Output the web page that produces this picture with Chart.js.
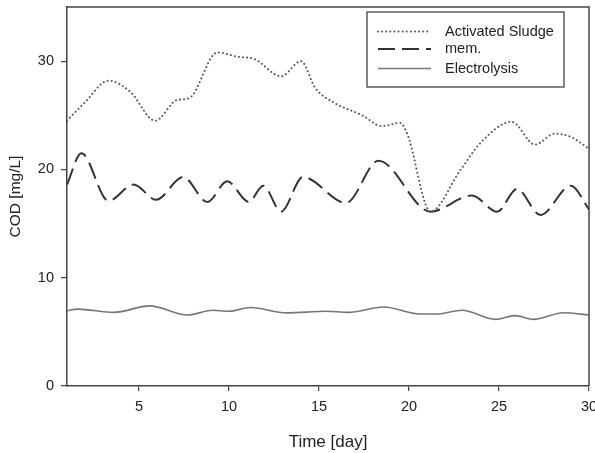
<!DOCTYPE html>
<html>
<head>
<meta charset="utf-8">
<script src="https://cdn.jsdelivr.net/npm/chart.js@4/dist/chart.umd.min.js"></script>
<style>
  html, body { margin: 0; padding: 0; background: #fff; overflow: hidden; }
  #wrap { width: 595px; height: 453px; position: relative; overflow: hidden; }
  #c { position: absolute; left: 0; top: 0; }
</style>
</head>
<body>
<div id="wrap"><canvas id="c" width="610" height="453"></canvas></div>
<script>
// ---- data ----
const sludgeDays   = [1, 2, 3.3, 4.5, 5.9, 7.1, 7.8, 9.35, 10.5, 11.4, 12.9, 14.0, 14.8, 15.8, 17.4, 18.5, 19.5, 19.9, 21.2, 22.8, 24.0, 25.7, 27.0, 28.1, 29.0, 30];
const sludgeValues = [24.5, 26.2, 28.2, 27.2, 24.5, 26.4, 26.6, 30.8, 30.4, 30.2, 28.6, 30.0, 27.5, 26.2, 25.0, 24.0, 24.3, 23.3, 16.1, 19.8, 22.5, 24.4, 22.3, 23.3, 23.0, 21.9];

const memDays   = [1, 1.8, 3.3, 4.7, 5.95, 7.45, 8.8, 9.9, 11.1, 11.9, 12.9, 14.1, 16.5, 18.3, 21.2, 23.5, 24.9, 26.0, 27.3, 29.0, 30];
const memValues = [18.6, 21.5, 17.1, 18.6, 17.2, 19.3, 17.0, 18.9, 17.0, 18.5, 16.1, 19.3, 16.9, 20.8, 16.1, 17.6, 16.1, 18.2, 15.8, 18.5, 16.3];

const elecDays   = [1, 1.6, 3.6, 5.6, 7.7, 9.1, 10.0, 11.2, 13.2, 15.4, 16.6, 18.6, 20.6, 21.6, 22.95, 24.8, 25.9, 26.9, 28.6, 30];
const elecValues = [6.95, 7.1, 6.8, 7.4, 6.55, 7.0, 6.9, 7.25, 6.75, 6.9, 6.8, 7.3, 6.65, 6.65, 7.0, 6.15, 6.5, 6.15, 6.77, 6.55];

const seriesLabels = ['Activated Sludge', 'mem.', 'Electrolysis'];
const xTicks = [5, 10, 15, 20, 25, 30];
const yTicks = [0, 10, 20, 30];
const xTitle = 'Time [day]';
const yTitle = 'COD [mg/L]';

const pts = (xs, ys) => xs.map((x, i) => ({ x: x, y: ys[i] }));

const FONT = "'Liberation Sans', Arial, sans-serif";

const frameAndLegend = {
  id: 'frameAndLegend',
  afterDraw(chart) {
    const ctx = chart.ctx;
    const a = chart.chartArea;
    ctx.save();
    // top and right frame
    ctx.strokeStyle = '#444';
    ctx.lineWidth = 1.5;
    ctx.beginPath();
    ctx.moveTo(a.left, a.top);
    ctx.lineTo(a.right, a.top);
    ctx.lineTo(a.right, a.bottom);
    ctx.stroke();
    // legend box
    const bx = 367, by = 12, bw = 197, bh = 75;
    ctx.fillStyle = '#fff';
    ctx.fillRect(bx, by, bw, bh);
    ctx.strokeStyle = '#333';
    ctx.lineWidth = 1.2;
    ctx.strokeRect(bx, by, bw, bh);
    const rows = [31.5, 49, 68.5];
    chart.data.datasets.forEach((ds, i) => {
      const y = rows[i];
      ctx.save();
      ctx.strokeStyle = ds.borderColor;
      ctx.lineWidth = ds.borderWidth;
      ctx.lineCap = ds.borderCapStyle || 'butt';
      ctx.setLineDash(ds.borderDash || []);
      ctx.beginPath();
      ctx.moveTo(378, y);
      ctx.lineTo(431, y);
      ctx.stroke();
      ctx.restore();
      ctx.fillStyle = '#222';
      ctx.font = '14.5px ' + FONT;
      ctx.textBaseline = 'middle';
      ctx.textAlign = 'left';
      ctx.fillText(ds.label, 445, y);
    });
    ctx.restore();
  }
};

new Chart(document.getElementById('c'), {
  type: 'line',
  data: {
    datasets: [
      {
        label: seriesLabels[0],
        data: pts(sludgeDays, sludgeValues),
        borderColor: '#5a5a5a',
        borderWidth: 2,
        borderDash: [0.1, 4],
        borderCapStyle: 'round',
        cubicInterpolationMode: 'monotone',
        pointRadius: 0,
        fill: false
      },
      {
        label: seriesLabels[1],
        data: pts(memDays, memValues),
        borderColor: '#333',
        borderWidth: 2,
        borderDash: [17, 7],
        cubicInterpolationMode: 'monotone',
        pointRadius: 0,
        fill: false
      },
      {
        label: seriesLabels[2],
        data: pts(elecDays, elecValues),
        borderColor: '#777',
        borderWidth: 1.6,
        cubicInterpolationMode: 'monotone',
        pointRadius: 0,
        fill: false
      }
    ]
  },
  options: {
    responsive: false,
    animation: false,
    layout: { padding: { top: 7, right: 21, left: 0, bottom: 0 } },
    plugins: { legend: { display: false }, tooltip: { enabled: false } },
    scales: {
      x: {
        type: 'linear',
        min: 1,
        max: 30,
        afterBuildTicks(axis) { axis.ticks = xTicks.map(v => ({ value: v })); },
        afterFit(axis) { axis.height = 67; axis.paddingLeft = 0; axis.paddingRight = 0; },
        grid: { drawOnChartArea: false, drawTicks: true, tickLength: 5, color: '#444', lineWidth: 1.2 },
        border: { display: true, color: '#444', width: 1.5 },
        ticks: { color: '#222', font: { family: FONT, size: 14.5 }, padding: 7, maxRotation: 0 },
        title: { display: true, text: xTitle, color: '#222', font: { family: FONT, size: 17 }, padding: { top: 8, bottom: 0 } }
      },
      y: {
        type: 'linear',
        min: 0,
        max: 35,
        afterBuildTicks(axis) { axis.ticks = yTicks.map(v => ({ value: v })); },
        afterFit(axis) { axis.width = 67; axis.paddingTop = 0; axis.paddingBottom = 0; },
        grid: { drawOnChartArea: false, drawTicks: true, tickLength: 6, color: '#444', lineWidth: 1.2 },
        border: { display: true, color: '#444', width: 1.5 },
        ticks: { color: '#222', font: { family: FONT, size: 14.5 }, padding: 7 },
        title: { display: true, text: yTitle, color: '#222', font: { family: FONT, size: 15.5 }, padding: { top: 6, bottom: 0 } }
      }
    }
  },
  plugins: [frameAndLegend]
});
</script>
</body>
</html>
